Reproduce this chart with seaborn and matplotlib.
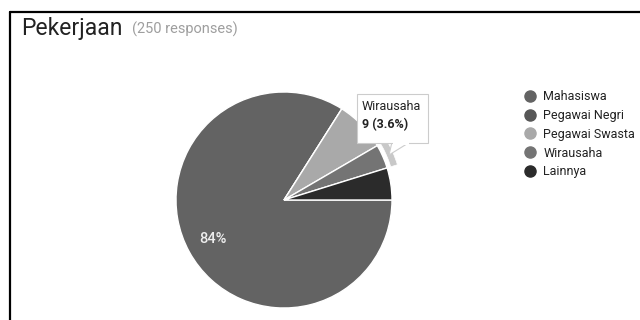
import numpy as np
import matplotlib.pyplot as plt
import seaborn as sns
from matplotlib.lines import Line2D
from matplotlib.patches import Wedge, Rectangle, Polygon

sns.set_theme(style="white")
plt.rcParams['font.family'] = ['Roboto', 'DejaVu Sans']

# data
categories = ["Mahasiswa", "Pegawai Negri", "Pegawai Swasta", "Wirausaha", "Lainnya"]
counts = [210, 0, 19, 9, 12]
colors = ["#636363", "#575757", "#a9a9a9", "#747474", "#2b2b2b"]
total = 250
hover = "Wirausaha"

fig = plt.figure(figsize=(6.4, 3.2), dpi=100)
fig.patch.set_facecolor("white")

# pie centred at (284, 200) px, radius 108 px
ax = fig.add_axes([176 / 640, 12 / 320, 216 / 640, 216 / 320])
ax.pie(counts, colors=colors, startangle=0, counterclock=False,
       wedgeprops=dict(edgecolor="white", linewidth=1),
       autopct=lambda p: f"{p:.0f}%" if p >= 10 else "",
       pctdistance=0.75,
       textprops=dict(color="#eeeeee", fontsize=10.5, fontweight="medium"))
ax.set_xlim(-1, 1)
ax.set_ylim(-1, 1)
ax.set_aspect("equal")
ax.axis("off")

# hover ring on the selected slice
i = categories.index(hover)
cum = np.cumsum([0] + counts) / total * 360
a_end = -cum[i]
a_start = -cum[i + 1]
ax.add_patch(Wedge((0, 0), 1.1, a_start, a_end, width=0.065,
                   facecolor="#c8c8c8", edgecolor="white", linewidth=0.5,
                   clip_on=False))

# title
fig.text(21 / 640, 1 - 28.5 / 320, "Pekerjaan", fontsize=16.5, color="#222222",
         va="center", ha="left")
fig.text(132 / 640, 1 - 29.5 / 320, f"({total} responses)", fontsize=10.5,
         color="#9e9e9e", va="center", ha="left")

# legend
handles = [Line2D([], [], marker="o", linestyle="", markersize=8,
                  markerfacecolor=c, markeredgecolor=c) for c in colors]
fig.legend(handles, categories, loc="upper left",
           bbox_to_anchor=(524 / 640, 1 - 90 / 320), frameon=False,
           fontsize=9, labelspacing=0.47, handletextpad=0.55,
           handlelength=1.0, borderaxespad=0, borderpad=0,
           labelcolor="#222222")

# tooltip
fig.add_artist(Polygon([[392 / 640, 1 - 142 / 320], [410 / 640, 1 - 142 / 320],
                        [389 / 640, 1 - 155 / 320]], closed=True,
                       facecolor="white", edgecolor="#cccccc", linewidth=0.8))
fig.add_artist(Rectangle((357 / 640, 1 - 143 / 320), 71 / 640, 49 / 320,
                         facecolor="white", edgecolor="#cccccc", linewidth=0.8))
fig.add_artist(Rectangle((393 / 640, 1 - 144.5 / 320), 16 / 640, 3 / 320,
                         facecolor="white", edgecolor="none"))
pct = counts[i] / total * 100
fig.text(362 / 640, 1 - 107 / 320, hover, fontsize=9, color="#222222",
         va="center", ha="left")
fig.text(362 / 640, 1 - 125 / 320, f"{counts[i]} ({pct:.1f}%)", fontsize=9,
         color="#222222", va="center", ha="left", fontweight="bold")

# frame lines at the top and left
fig.add_artist(Line2D([10 / 640, 1], [1 - 12 / 320, 1 - 12 / 320],
                      color="black", linewidth=1.6))
fig.add_artist(Line2D([10 / 640, 10 / 640], [0, 1 - 12 / 320],
                      color="black", linewidth=1.6))

fig.savefig("out.png", dpi=100)
